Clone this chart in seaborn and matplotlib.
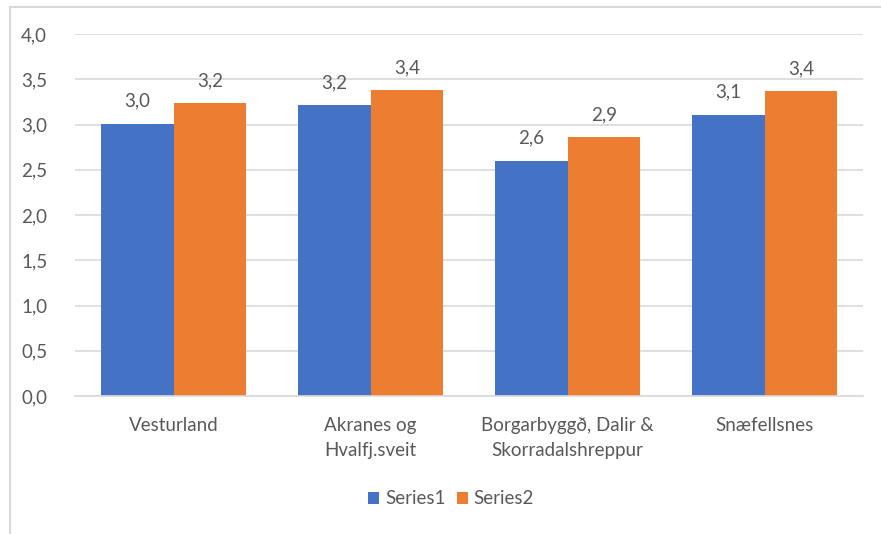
import matplotlib
matplotlib.use("Agg")
import matplotlib.pyplot as plt
from matplotlib.lines import Line2D
from matplotlib.patches import Patch
import pandas as pd
import seaborn as sns

categories = ["Vesturland", "Akranes og\nHvalfj.sveit",
              "Borgarbyggð, Dalir &\nSkorradalshreppur", "Snæfellsnes"]
series1 = [3.01, 3.21, 2.60, 3.11]
series2 = [3.24, 3.38, 2.86, 3.37]
series_names = ["Series1", "Series2"]
yticks = [0.0, 0.5, 1.0, 1.5, 2.0, 2.5, 3.0, 3.5, 4.0]

colors = ["#4472C4", "#ED7D31"]
text_color = "#595959"
grid_color = "#D9D9D9"
fs = 13.5

df = pd.DataFrame({
    "category": categories * 2,
    "value": series1 + series2,
    "series": [series_names[0]] * 4 + [series_names[1]] * 4,
})

sns.set_theme(style="white")
plt.rcParams["font.family"] = ["Lato", "DejaVu Sans"]

fig = plt.figure(figsize=(8.81, 5.34), dpi=100)
ax = fig.add_axes([75 / 881, 1 - 396 / 534, (863 - 75) / 881, (396 - 34) / 534])

sns.barplot(data=df, x="category", y="value", hue="series",
            palette=colors, width=0.74, saturation=1, ax=ax,
            legend=False, linewidth=0)

ax.set_xlim(-0.5, len(categories) - 0.5)
ax.set_ylim(0, 4.0)
ax.set_yticks(yticks)
ax.set_yticklabels([f"{t:.1f}".replace(".", ",") for t in yticks])
ax.yaxis.grid(True, color=grid_color, linewidth=1.2)
ax.set_axisbelow(True)
for side in ["top", "right", "left"]:
    ax.spines[side].set_visible(False)
ax.spines["bottom"].set_color(grid_color)
ax.spines["bottom"].set_linewidth(1.2)
ax.tick_params(axis="both", length=0, labelsize=fs, colors=text_color)
ax.tick_params(axis="y", pad=20)
ax.tick_params(axis="x", pad=15)
for lbl in ax.get_xticklabels():
    lbl.set_linespacing(1.6)
ax.set_xlabel("")
ax.set_ylabel("")

# value labels above each bar
for container in ax.containers:
    ax.bar_label(container, labels=[f"{v:.1f}".replace(".", ",") for v in container.datavalues],
                 padding=10, fontsize=fs, color=text_color)

handles = [Patch(facecolor=c, edgecolor="none") for c in colors]
fig.legend(handles, series_names, loc="center", bbox_to_anchor=(451 / 881, 1 - 499 / 534),
           ncol=2, frameon=False, fontsize=fs, labelcolor=text_color,
           handlelength=0.6, handleheight=0.6, handletextpad=0.3, columnspacing=0.6)

# chart area border
fig.add_artist(Line2D([10 / 881, 10 / 881], [0, 1 - 7 / 534], color=grid_color, linewidth=1.5))
fig.add_artist(Line2D([10 / 881, 1], [1 - 7 / 534, 1 - 7 / 534], color=grid_color, linewidth=1.5))

fig.savefig("out.png", dpi=100, facecolor="white")
